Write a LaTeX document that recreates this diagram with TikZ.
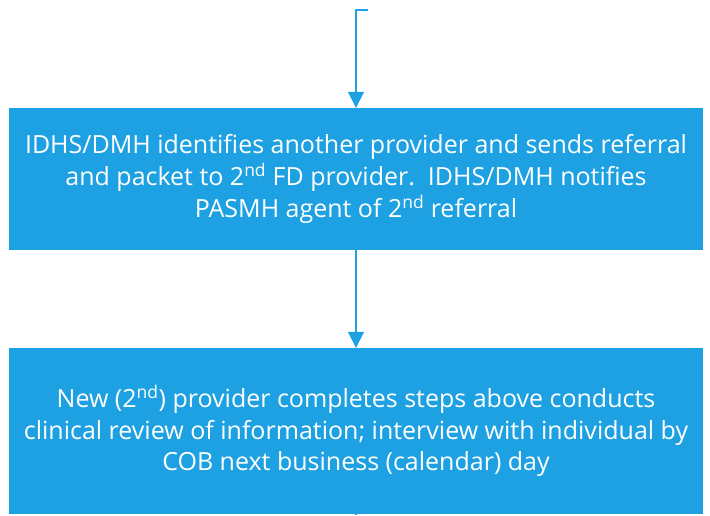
\documentclass[tikz,border=0pt]{standalone}
\usepackage{fontspec}
\setmainfont{Open Sans}
\usetikzlibrary{arrows.meta}
\definecolor{metro}{RGB}{29,161,226}
\tikzset{
  flowbox/.style={fill=metro, draw=none, inner sep=0pt, minimum width=694pt,
    text=white, align=center, font=\fontsize{25}{31.7}\selectfont},
  flow/.style={draw=metro, line width=1.5pt, -{Triangle[width=16pt,length=16pt]}},
  plain/.style={draw=metro, line width=1.5pt}
}
\begin{document}
\begin{tikzpicture}[x=1pt,y=-1pt]
\useasboundingbox (0,0) rectangle (710,515);
\fill[white] (0,0) rectangle (710,515);
\node[flowbox, minimum height=142pt] (b1) at (356,179) {IDHS/DMH identifies another provider and sends referral\\and packet to 2\textsuperscript{nd} FD provider.\ \ IDHS/DMH notifies\\PASMH agent of 2\textsuperscript{nd} referral};
\node[flowbox, minimum height=166pt] (b2) at (356,431) {New (2\textsuperscript{nd}) provider completes steps above conducts\\clinical review of information; interview with individual by\\COB next business (calendar) day};
% connectors
\coordinate (s0) at (368,10);
\coordinate (s1) at (356,10);
\draw[flow] (s0) -- (s1) -- (b1.north);
\draw[flow] (b1.south) -- (b2.north);
\coordinate (e0) at (356,515);
\draw[plain] (b2.south) -- (e0);
\end{tikzpicture}
\end{document}
